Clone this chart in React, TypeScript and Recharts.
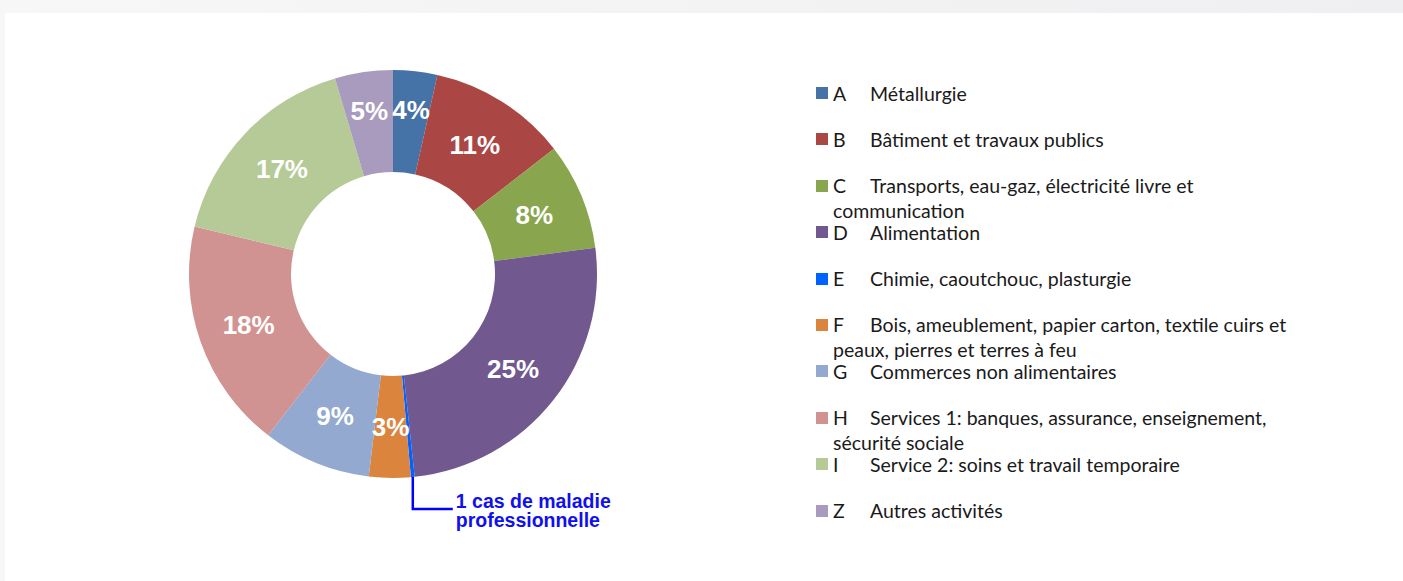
import React from 'react';
import { PieChart, Pie, Cell, Legend } from 'recharts';

const codes = ['A', 'B', 'C', 'D', 'E', 'F', 'G', 'H', 'I', 'Z'];
const names = [
  'Métallurgie',
  'Bâtiment et travaux publics',
  'Transports, eau-gaz, électricité livre et communication',
  'Alimentation',
  'Chimie, caoutchouc, plasturgie',
  'Bois, ameublement, papier carton, textile cuirs et peaux, pierres et terres à feu',
  'Commerces non alimentaires',
  'Services 1: banques, assurance, enseignement, sécurité sociale',
  'Service 2: soins et travail temporaire',
  'Autres activités',
];
const shares = [3.5, 11, 8.5, 25.4, 0.3, 3.3, 8.6, 18.3, 16.7, 4.6];
const percentLabels = ['4%', '11%', '8%', '25%', '', '3%', '9%', '18%', '17%', '5%'];
const colors = ['#4572A7', '#AA4643', '#89A54E', '#71588F', '#0062FF', '#DB843D', '#93A9CF', '#D19392', '#B5CA97', '#A99BBD'];
const calloutCode = 'E';
const calloutLines = ['1 cas de maladie', 'professionnelle'];

const data = codes.map((code, i) => ({ code, name: names[i], value: shares[i], label: percentLabels[i], color: colors[i] }));

const RAD = Math.PI / 180;

const renderLabel = (props: any) => {
  const { cx, cy, midAngle, innerRadius, outerRadius, index, percent } = props;
  const d = data[index];
  if (d.code === calloutCode) {
    const ox = cx + outerRadius * Math.cos(-midAngle * RAD);
    const oy = cy + outerRadius * Math.sin(-midAngle * RAD);
    const ky = oy + 32;
    const kx = ox + 40;
    return (
      <g>
        <path d={`M${ox},${oy} L${ox},${ky} L${kx},${ky}`} stroke="#0000FF" strokeWidth={2.5} fill="none" />
        <text x={kx + 3} y={ky - 1} fill="#1010EE" fontFamily="Liberation Sans, Arial, sans-serif" fontWeight="bold" fontSize={19.5}>
          {calloutLines.map((t, k) => (
            <tspan key={k} x={kx + 3} dy={k === 0 ? 0 : 18.5}>{t}</tspan>
          ))}
        </text>
      </g>
    );
  }
  let r = (innerRadius + outerRadius) / 2;
  const upper = Math.sin(midAngle * RAD) > 0.9;
  if (percent < 0.06 && upper) r += 12;
  const x = cx + r * Math.cos(-midAngle * RAD);
  const y = cy + r * Math.sin(-midAngle * RAD);
  return (
    <text x={x} y={y} fill="#FFFFFF" textAnchor="middle" dominantBaseline="central"
      fontFamily="Liberation Sans, Arial, sans-serif" fontWeight="bold" fontSize={26}>
      {d.label}
    </text>
  );
};

const renderLegend = () => (
  <div style={{ fontFamily: 'Lato, sans-serif', fontSize: 19.5, color: '#1a1a1a' }}>
    {data.map((d) => (
      <div key={d.code} style={{ position: 'relative', height: 46.4 }}>
        <div style={{ position: 'absolute', left: 0, top: 6.5, width: 12, height: 12, background: d.color }} />
        <div style={{ marginLeft: 17, lineHeight: '25px', width: 485 }}>
          <span style={{ display: 'inline-block', width: 37 }}>{d.code}</span>
          {d.name}
        </div>
      </div>
    ))}
  </div>
);

export default function App() {
  return (
    <div style={{ position: 'absolute', left: 0, top: 0, width: 1403, height: 581, background: 'linear-gradient(90deg, #f7f7f7, #efeff1)', overflow: 'hidden' }}>
      <div style={{ position: 'absolute', left: 5, top: 13, right: 0, bottom: 0, background: '#ffffff' }} />
      <div style={{ position: 'absolute', left: 0, top: 0 }}>
        <PieChart width={1403} height={581} margin={{ top: 0, right: 0, bottom: 0, left: 0 }}>
          <Pie
            data={data}
            dataKey="value"
            nameKey="name"
            cx={393}
            cy={274}
            innerRadius={102}
            outerRadius={204}
            startAngle={90}
            endAngle={-270}
            stroke="none"
            labelLine={false}
            label={renderLabel}
            isAnimationActive={false}
          >
            {data.map((d) => (
              <Cell key={d.code} fill={d.color} />
            ))}
          </Pie>
          <Legend content={renderLegend} wrapperStyle={{ position: 'absolute', left: 816, top: 80.5, width: 520 }} />
        </PieChart>
      </div>
    </div>
  );
}
